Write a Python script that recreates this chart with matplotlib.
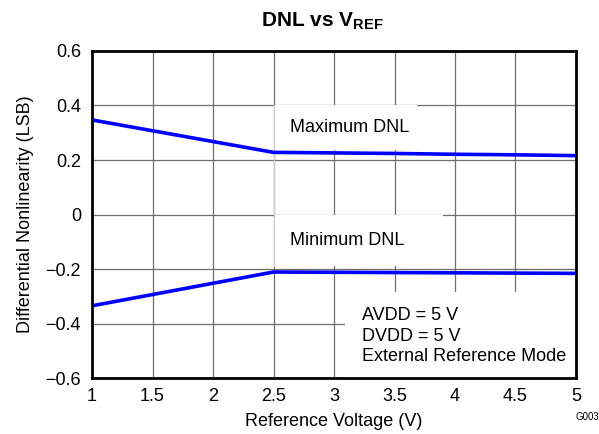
"""
DNL vs VREF 차트 재현
"""
import matplotlib
matplotlib.use("Agg")
import matplotlib.pyplot as plt
from matplotlib.patches import Rectangle

plt.rcParams['font.family'] = ['Liberation Sans', 'DejaVu Sans']
plt.rcParams['mathtext.fontset'] = 'custom'
plt.rcParams['mathtext.rm'] = 'Liberation Sans'
plt.rcParams['mathtext.bf'] = 'Liberation Sans:bold'

# ─── 데이터 ─────────────────────────────────────────
vref = [1.0, 2.5, 3.0, 3.5, 4.0, 4.5, 5.0]
dnl_max = [0.347, 0.228, 0.226, 0.224, 0.221, 0.219, 0.216]
dnl_min = [-0.335, -0.211, -0.212, -0.213, -0.214, -0.215, -0.216]

x_ticks = [1, 1.5, 2, 2.5, 3, 3.5, 4, 4.5, 5]
y_ticks = [-0.6, -0.4, -0.2, 0, 0.2, 0.4, 0.6]
y_tick_labels = ['\u22120.6', '\u22120.4', '\u22120.2', '0', '0.2', '0.4', '0.6']
x_tick_labels = ['1', '1.5', '2', '2.5', '3', '3.5', '4', '4.5', '5']

# ─── 차트 ─────────────────────────────────────────
fig = plt.figure(figsize=(5.99, 4.34), dpi=100)
fig.patch.set_facecolor('white')
ax = fig.add_axes([0.1536, 0.129, 0.808, 0.7535])

ax.set_xlim(1, 5)
ax.set_ylim(-0.6, 0.6)
ax.set_xticks(x_ticks)
ax.set_xticklabels(x_tick_labels)
ax.set_yticks(y_ticks)
ax.set_yticklabels(y_tick_labels)
ax.tick_params(length=0, labelsize=13, colors='black')
ax.tick_params(axis='y', pad=8)
ax.tick_params(axis='x', pad=7)
ax.grid(True, color='#6E6E6E', linewidth=0.9, zorder=1)
ax.set_axisbelow(True)

for sp in ax.spines.values():
    sp.set_linewidth(2.0)
    sp.set_color('black')
    sp.set_zorder(10)

# 라벨 박스 (흰 배경, 왼쪽만 옅은 선)
ax.add_patch(Rectangle((2.5, 0.235), 1.19, 0.165, facecolor='white',
                       edgecolor='none', zorder=2))
ax.add_patch(Rectangle((2.5, -0.19), 1.4, 0.19, facecolor='white',
                       edgecolor='none', zorder=2))
ax.add_patch(Rectangle((3.09, -0.6), 1.91, 0.315, facecolor='white',
                       edgecolor='none', zorder=2))
ax.plot([2.5, 2.5], [-0.19, 0.4], color='#D0D0D0', linewidth=0.9, zorder=3)

ax.plot(vref, dnl_max, color='#0000FF', linewidth=2.6, zorder=5)
ax.plot(vref, dnl_min, color='#0000FF', linewidth=2.6, zorder=5)

ax.text(2.64, 0.321, 'Maximum DNL', fontsize=13, ha='left', va='center', zorder=6)
ax.text(2.64, -0.094, 'Minimum DNL', fontsize=13, ha='left', va='center', zorder=6)
ax.text(3.23, -0.446, 'AVDD = 5 V\nDVDD = 5 V\nExternal Reference Mode',
        fontsize=13, ha='left', va='center', linespacing=1.25, zorder=6)

ax.set_xlabel('Reference Voltage (V)', fontsize=13, labelpad=6)
ax.set_ylabel('Differential Nonlinearity (LSB)', fontsize=13, labelpad=8)

fig.text(0.538, 0.952, r'DNL vs V$_{\mathbf{REF}}$', fontsize=15,
         fontweight='bold', ha='center', va='center')
fig.text(0.96, 0.039, 'G003', fontsize=7, ha='left', va='center')

plt.savefig('out.png', dpi=100, facecolor='white')
plt.close()
